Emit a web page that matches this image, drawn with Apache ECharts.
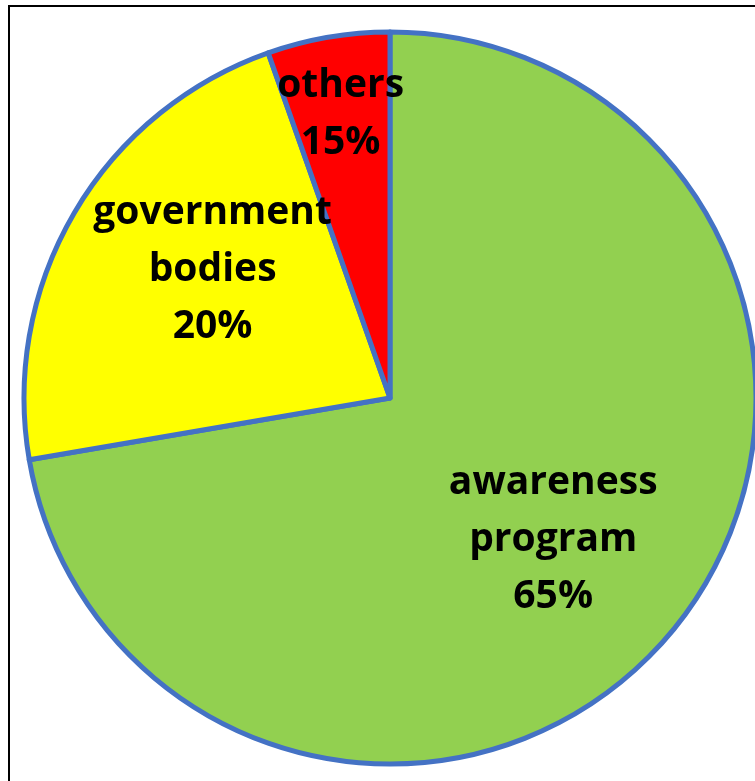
<!DOCTYPE html>
<html>
<head>
<meta charset="utf-8">
<script src="https://cdn.jsdelivr.net/npm/echarts@6/dist/echarts.min.js"></script>
<style>
  html, body { margin: 0; padding: 0; background: #fff; }
  #chart { width: 755px; height: 781px; }
</style>
</head>
<body>
<div id="chart"></div>
<script>
// slice sizes as drawn (angles, in percent of the circle)
const categories = ['awareness\nprogram', 'government\nbodies', 'others']
const sliceValues = [72.3, 22.3, 5.4]
// percentages printed on the slices
const printedPct = ['65%', '20%', '15%']
const sliceColors = ['#92D050', '#FFFF00', '#FF0000']
// label nudges from the default inside position
const labelShift = [[21, 22], [-17, -34], [-18, -100]]

const chart = echarts.init(document.getElementById('chart'))

const option = {
  animation: false,
  backgroundColor: '#fff',
  graphic: [
    {
      type: 'rect',
      shape: { x: 9, y: 6, width: 800, height: 820 },
      style: { fill: 'none', stroke: '#000', lineWidth: 2 }
    }
  ],
  series: [
    {
      type: 'pie',
      center: [390, 398],
      radius: 366,
      startAngle: 90,
      clockwise: true,
      data: categories.map((name, i) => ({
        name,
        value: sliceValues[i],
        itemStyle: { color: sliceColors[i] }
      })),
      itemStyle: {
        borderColor: '#4472C4',
        borderWidth: 5
      },
      label: {
        show: true,
        position: 'inside',
        formatter: p => p.name + '\n' + printedPct[p.dataIndex],
        color: '#000',
        fontFamily: 'Open Sans',
        fontWeight: 'bold',
        fontSize: 39,
        lineHeight: 57,
        align: 'center'
      },
      labelLayout: p => ({
        dx: labelShift[p.dataIndex][0],
        dy: labelShift[p.dataIndex][1]
      }),
      emphasis: { disabled: true }
    }
  ]
}

chart.setOption(option)
</script>
</body>
</html>
